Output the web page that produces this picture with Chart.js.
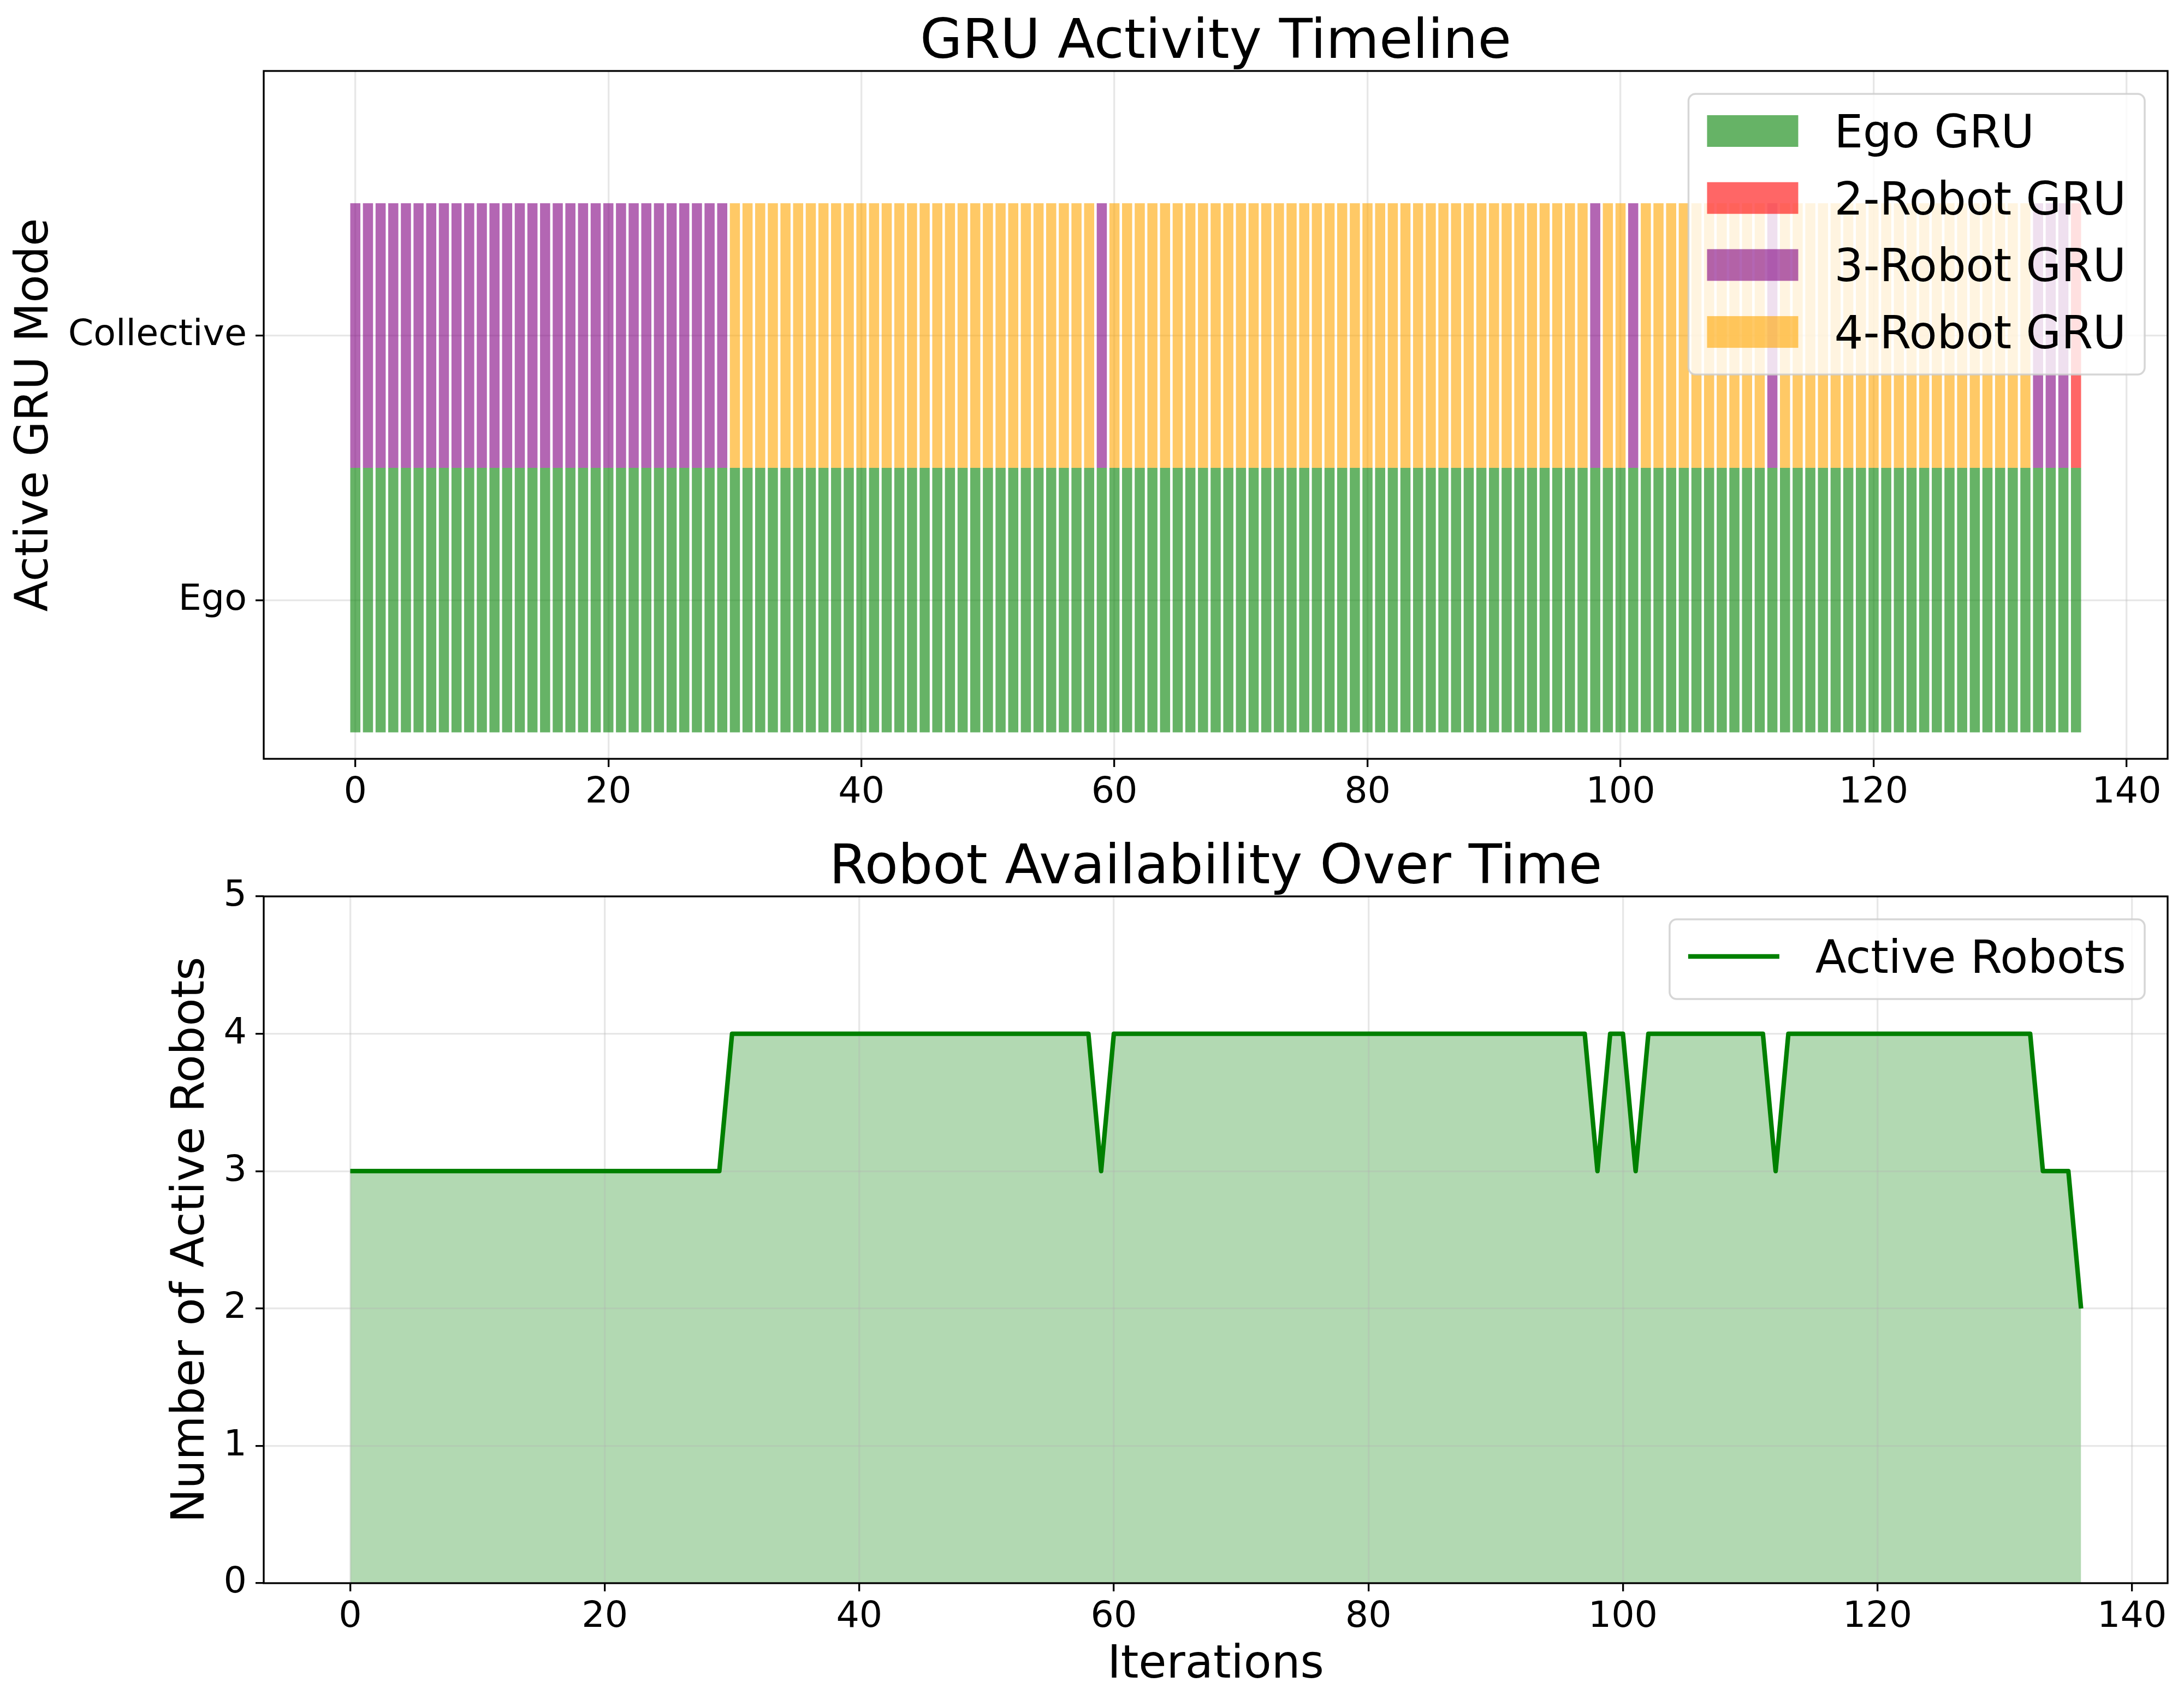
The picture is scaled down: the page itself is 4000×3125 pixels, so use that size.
<!DOCTYPE html>
<html>
<head>
<meta charset="utf-8">
<script src="https://cdn.jsdelivr.net/npm/chart.js@4.4.1/dist/chart.umd.min.js"></script>
<style>
html, body { margin: 0; padding: 0; background: #fff; }
#wrap { position: relative; width: 4000px; height: 3125px; }
canvas { position: absolute; left: 0; }
#gru { top: 0; }
#avail { top: 1520px; }
</style>
</head>
<body>
<div id="wrap">
<canvas id="gru" width="4000" height="1520"></canvas>
<canvas id="avail" width="4000" height="1605"></canvas>
</div>
<script>
// number of robots active at each iteration (0..136)
const activeRobots = [
  3, 3, 3, 3, 3, 3, 3, 3, 3, 3,
  3, 3, 3, 3, 3, 3, 3, 3, 3, 3,
  3, 3, 3, 3, 3, 3, 3, 3, 3, 3,
  4, 4, 4, 4, 4, 4, 4, 4, 4, 4,
  4, 4, 4, 4, 4, 4, 4, 4, 4, 4,
  4, 4, 4, 4, 4, 4, 4, 4, 4, 3,
  4, 4, 4, 4, 4, 4, 4, 4, 4, 4,
  4, 4, 4, 4, 4, 4, 4, 4, 4, 4,
  4, 4, 4, 4, 4, 4, 4, 4, 4, 4,
  4, 4, 4, 4, 4, 4, 4, 4, 3, 4,
  4, 3, 4, 4, 4, 4, 4, 4, 4, 4,
  4, 4, 3, 4, 4, 4, 4, 4, 4, 4,
  4, 4, 4, 4, 4, 4, 4, 4, 4, 4,
  4, 4, 4, 3, 3, 3, 2
];

const gruLabels = ['Ego GRU', '2-Robot GRU', '3-Robot GRU', '4-Robot GRU'];
const gruRobots = [null, 2, 3, 4];   // which robot count each collective GRU serves
const egoBand = [-0.5, 0.5];
const collectiveBand = [0.5, 1.5];
const modeTicks = [0, 1];
const modeLabels = ['Ego', 'Collective'];
const iterTicks = [0, 20, 40, 60, 80, 100, 120, 140];
const robotTicks = [0, 1, 2, 3, 4, 5];

const gruColors = ['rgba(0,128,0,0.6)', 'rgba(255,0,0,0.6)', 'rgba(128,0,128,0.6)', 'rgba(255,165,0,0.6)'];

Chart.defaults.font.family = '"DejaVu Sans", sans-serif';
Chart.defaults.color = '#000';

const FS_TICK = 66.7, FS_LABEL = 83.3, FS_TITLE = 100;

// matplotlib style full box around the plot area
const frame = {
  id: 'frame',
  afterDraw(chart) {
    const a = chart.chartArea, ctx = chart.ctx;
    ctx.save();
    ctx.strokeStyle = '#000';
    ctx.lineWidth = 3.3;
    ctx.strokeRect(a.left, a.top, a.right - a.left, a.bottom - a.top);
    ctx.restore();
  }
};

const plotTitle = {
  id: 'plotTitle',
  afterDraw(chart, args, opts) {
    const a = chart.chartArea, ctx = chart.ctx;
    ctx.save();
    ctx.font = FS_TITLE + 'px "DejaVu Sans"';
    ctx.fillStyle = '#000';
    ctx.textAlign = 'center';
    ctx.textBaseline = 'alphabetic';
    ctx.fillText(opts.text, (a.left + a.right) / 2, a.top - 24);
    ctx.restore();
  }
};

function rrect(ctx, x, y, w, h, r) {
  ctx.beginPath();
  ctx.moveTo(x + r, y);
  ctx.lineTo(x + w - r, y);
  ctx.arcTo(x + w, y, x + w, y + r, r);
  ctx.lineTo(x + w, y + h - r);
  ctx.arcTo(x + w, y + h, x + w - r, y + h, r);
  ctx.lineTo(x + r, y + h);
  ctx.arcTo(x, y + h, x, y + h - r, r);
  ctx.lineTo(x, y + r);
  ctx.arcTo(x, y, x + r, y, r);
  ctx.closePath();
}

// legend drawn on top of the data, upper right, like plt.legend()
const boxLegend = {
  id: 'boxLegend',
  afterDraw(chart, args, opts) {
    const a = chart.chartArea, ctx = chart.ctx;
    const items = chart.data.datasets;
    const isLine = chart.config.type === 'line';
    const pad = 34, handle = 167, gap = 66, first = 68, step = 122.7, last = 78;
    ctx.save();
    ctx.font = FS_LABEL + 'px "DejaVu Sans"';
    const tw = Math.max(...items.map(d => ctx.measureText(d.label).width));
    const w = pad * 2 + handle + gap + tw;
    const h = first + (items.length - 1) * step + last;
    const x = a.right - 42 - w, y = a.top + 42;
    rrect(ctx, x, y, w, h, 13);
    ctx.fillStyle = 'rgba(255,255,255,0.8)';
    ctx.fill();
    ctx.lineWidth = 3.5;
    ctx.strokeStyle = 'rgba(204,204,204,0.8)';
    ctx.stroke();
    items.forEach((d, i) => {
      const cy = y + first + i * step;
      if (isLine) {
        ctx.strokeStyle = d.borderColor;
        ctx.lineWidth = d.borderWidth;
        ctx.beginPath();
        ctx.moveTo(x + pad, cy);
        ctx.lineTo(x + pad + handle, cy);
        ctx.stroke();
      } else {
        ctx.fillStyle = d.backgroundColor;
        ctx.fillRect(x + pad, cy - 29, handle, 58);
      }
      ctx.fillStyle = '#000';
      ctx.textAlign = 'left';
      ctx.textBaseline = 'alphabetic';
      ctx.fillText(d.label, x + pad + handle + gap, cy + 30);
    });
    ctx.restore();
  }
};

const gridStyle = {
  offset: false,
  color: 'rgba(176,176,176,0.3)',
  lineWidth: 3.3,
  tickColor: '#000',
  tickWidth: 3.3,
  tickLength: 15
};
const tickFont = { size: FS_TICK, lineHeight: 1.2 };
const labelFont = { size: FS_LABEL, lineHeight: 1.2 };

// ---------- top: GRU activity timeline ----------
const gruDatasets = gruLabels.map((label, k) => {
  const data = [];
  activeRobots.forEach((n, i) => {
    if (gruRobots[k] === null) data.push({ x: i, y: egoBand });
    else if (n === gruRobots[k]) data.push({ x: i, y: collectiveBand });
  });
  return {
    label: label,
    data: data,
    backgroundColor: gruColors[k],
    borderWidth: 0,
    grouped: false,
    barPercentage: 0.8,
    categoryPercentage: 1.0
  };
});

new Chart(document.getElementById('gru'), {
  type: 'bar',
  data: { datasets: gruDatasets },
  options: {
    responsive: false,
    devicePixelRatio: 1,
    animation: false,
    layout: { padding: { left: 0, right: 30, top: 130, bottom: 0 } },
    plugins: {
      legend: { display: false },
      tooltip: { enabled: false },
      plotTitle: { text: 'GRU Activity Timeline' }
    },
    scales: {
      x: {
        type: 'linear',
        min: -7.24,
        max: 143.24,
        z: 1,
        offset: false,
        grid: gridStyle,
        border: { display: false },
        afterBuildTicks: s => { s.ticks = iterTicks.map(v => ({ value: v })); },
        afterFit: s => { s.height = 130; },
        ticks: { font: tickFont, padding: 8, maxRotation: 0, autoSkip: false }
      },
      y: {
        type: 'linear',
        min: -0.6,
        max: 2.0,
        z: 1,
        grid: gridStyle,
        border: { display: false },
        afterBuildTicks: s => { s.ticks = modeTicks.map(v => ({ value: v })); },
        afterFit: s => { s.width = 483; },
        ticks: {
          font: tickFont,
          padding: 16,
          callback: v => modeLabels[modeTicks.indexOf(v)]
        },
        title: {
          display: true,
          text: 'Active GRU Mode',
          font: labelFont,
          padding: { top: 15, bottom: 0 }
        }
      }
    }
  },
  plugins: [frame, plotTitle, boxLegend]
});

// ---------- bottom: robot availability ----------
new Chart(document.getElementById('avail'), {
  type: 'line',
  data: {
    datasets: [{
      label: 'Active Robots',
      data: activeRobots.map((n, i) => ({ x: i, y: n })),
      borderColor: '#008000',
      borderWidth: 8.3,
      borderJoinStyle: 'round',
      backgroundColor: 'rgba(0,128,0,0.3)',
      fill: 'origin',
      tension: 0,
      pointRadius: 0
    }]
  },
  options: {
    responsive: false,
    devicePixelRatio: 1,
    animation: false,
    layout: { padding: { left: 286, right: 30, top: 122, bottom: 0 } },
    plugins: {
      legend: { display: false },
      tooltip: { enabled: false },
      filler: { drawTime: 'beforeDraw' },
      plotTitle: { text: 'Robot Availability Over Time' }
    },
    scales: {
      x: {
        type: 'linear',
        min: -6.8,
        max: 142.8,
        grid: gridStyle,
        border: { display: false },
        afterBuildTicks: s => { s.ticks = iterTicks.map(v => ({ value: v })); },
        afterFit: s => { s.height = 225; },
        ticks: { font: tickFont, padding: 8, maxRotation: 0, autoSkip: false },
        title: {
          display: true,
          text: 'Iterations',
          font: labelFont,
          padding: { top: 0, bottom: 24 }
        }
      },
      y: {
        type: 'linear',
        min: 0,
        max: 5,
        grid: gridStyle,
        border: { display: false },
        afterBuildTicks: s => { s.ticks = robotTicks.map(v => ({ value: v })); },
        afterFit: s => { s.width = 483 - 286; },
        ticks: { font: tickFont, padding: 16 },
        title: {
          display: true,
          text: 'Number of Active Robots',
          font: labelFont,
          padding: { top: 15, bottom: 0 }
        }
      }
    }
  },
  plugins: [frame, plotTitle, boxLegend]
});
</script>
</body>
</html>
